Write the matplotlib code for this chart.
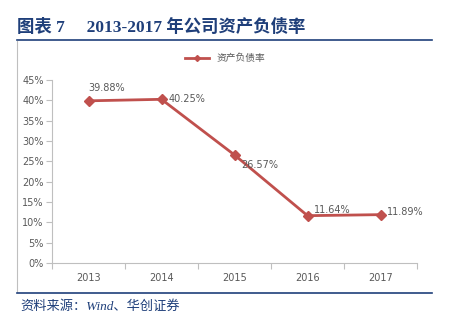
import matplotlib
matplotlib.use("Agg")
import matplotlib.pyplot as plt
from matplotlib.lines import Line2D

plt.rcParams['font.family'] = ['Noto Sans CJK SC', 'DejaVu Sans']

# data
years = ['2013', '2014', '2015', '2016', '2017']
ratio = [39.88, 40.25, 26.57, 11.64, 11.89]
label_text = ['39.88%', '40.25%', '26.57%', '11.64%', '11.89%']
# label offsets in points (dx, dy)
label_off = [(0, 9), (5, 0), (5, -7), (5, 4), (5, 2)]
y_ticks = [0, 5, 10, 15, 20, 25, 30, 35, 40, 45]

red = '#c0504d'
navy = '#1f3f7a'
gray = '#595959'

fig = plt.figure(figsize=(4.54, 3.31), dpi=100)

# header / footer decoration
fig.text(17 / 454, 1 - 27 / 331, '图表 7     2013-2017 年公司资产负债率',
         family=['Liberation Serif', 'Noto Sans CJK SC'], fontweight='bold',
         fontsize=12.5, color=navy, va='center', ha='left')
fig.add_artist(Line2D([17 / 454, 432 / 454], [1 - 40 / 331, 1 - 40 / 331],
                      color=navy, lw=1.2))
fig.add_artist(Line2D([17 / 454, 17 / 454], [1 - 41 / 331, 1 - 292 / 331],
                      color='#bfbfbf', lw=0.8))
fig.add_artist(Line2D([17 / 454, 432 / 454], [1 - 293 / 331, 1 - 293 / 331],
                      color=navy, lw=1.2))
fig.text(20 / 454, 1 - 307 / 331, '资料来源：Wind、华创证券',
         family=['Liberation Serif', 'Noto Sans CJK SC'], style='italic',
         fontsize=9.5, color=navy, va='center', ha='left')

ax = fig.add_axes([52 / 454, 68 / 331, 365 / 454, 183 / 331])
x = list(range(len(years)))
ax.plot(x, ratio, color=red, lw=2, marker='D', markersize=5,
        label='资产负债率')
for i in range(len(years)):
    dx, dy = label_off[i]
    ax.annotate(label_text[i], (x[i], ratio[i]), xytext=(dx, dy),
                textcoords='offset points', ha='left', va='center',
                fontsize=7, color=gray, family=['DejaVu Sans'])

ax.set_ylim(0, 45)
ax.set_yticks(y_ticks)
ax.set_yticklabels([f'{t}%' for t in y_ticks])
ax.set_xlim(-0.5, len(years) - 0.5)
ax.set_xticks([i - 0.5 for i in range(len(years) + 1)])
ax.set_xticklabels([])
ax.set_xticks(x, minor=True)
ax.set_xticklabels(years, minor=True)
ax.tick_params(axis='x', which='minor', length=0, pad=7,
               labelsize=7, labelcolor=gray)
ax.tick_params(axis='x', which='major', length=4, color='#bfbfbf',
               direction='out')
ax.tick_params(axis='y', length=4, color='#bfbfbf', labelsize=7,
               labelcolor=gray, pad=2)
for t in ax.get_yticklabels() + ax.get_xticklabels(minor=True):
    t.set_family(['DejaVu Sans'])
for s in ['top', 'right']:
    ax.spines[s].set_visible(False)
ax.spines['left'].set_color('#bfbfbf')
ax.spines['bottom'].set_color('#bfbfbf')

leg = fig.legend(loc='center', bbox_to_anchor=(225 / 454, 1 - 58 / 331),
                 frameon=False, fontsize=7, handlelength=2.5,
                 markerscale=0.6, labelcolor=gray)

fig.savefig('out.png', dpi=100)
